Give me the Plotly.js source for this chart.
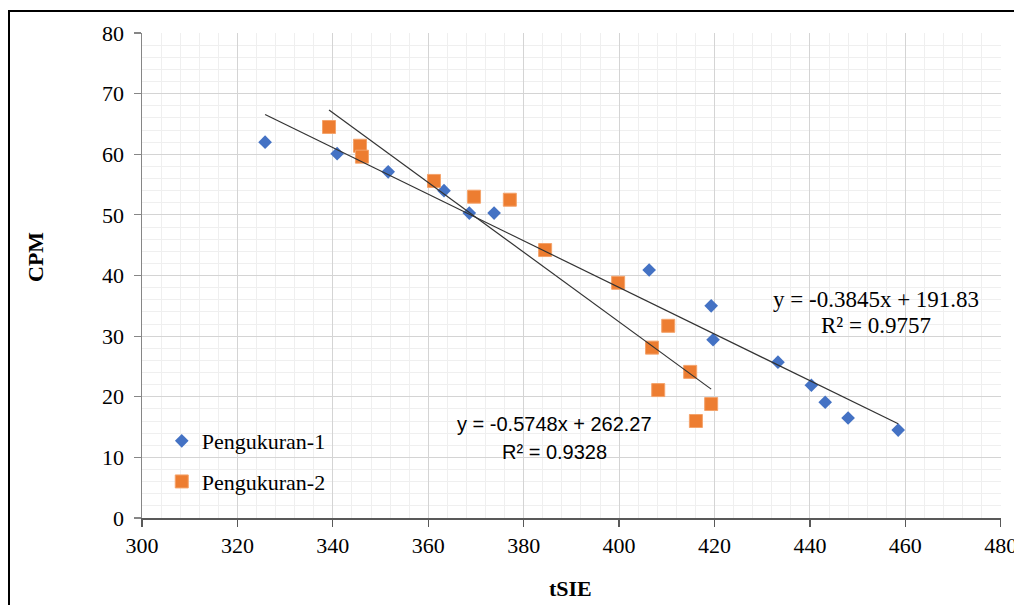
<!DOCTYPE html>
<html><head><meta charset="utf-8">
<script src="https://cdn.plot.ly/plotly-3.0.1.min.js"></script>
<style>html,body{margin:0;padding:0;background:#fff}#chart{width:1014px;height:605px}</style>
</head><body><div id="chart"></div>
<script>
const seriesNames = ['Pengukuran-1', 'Pengukuran-2'];
const p1_tSIE = [325.8, 340.9, 351.6, 363.3, 368.6, 373.8, 406.3, 419.3, 419.7, 433.3, 440.3, 443.2, 448.0, 458.5];
const p1_CPM  = [62.0, 60.1, 57.1, 54.0, 50.3, 50.3, 40.9, 35.0, 29.4, 25.7, 21.9, 19.1, 16.5, 14.5];
const p2_tSIE = [339.2, 345.7, 346.1, 361.2, 369.6, 377.1, 384.5, 399.8, 410.3, 406.9, 414.9, 408.2, 419.3, 416.1];
const p2_CPM  = [64.5, 61.4, 59.6, 55.6, 53.0, 52.5, 44.2, 38.8, 31.7, 28.1, 24.1, 21.1, 18.8, 16.0];
const trend1 = {slope: -0.3845, intercept: '191.83', r2: '0.9757'};
const trend2 = {slope: -0.5748, intercept: '262.27', r2: '0.9328'};
const xTicks = [300, 320, 340, 360, 380, 400, 420, 440, 460, 480];
const yTicks = [0, 10, 20, 30, 40, 50, 60, 70, 80];
const xTitle = 'tSIE';
const yTitle = 'CPM';

function trendLine(xs, t) {
  const x0 = Math.min(...xs), x1 = Math.max(...xs);
  const b = parseFloat(t.intercept);
  return {x: [x0, x1], y: [t.slope * x0 + b, t.slope * x1 + b]};
}
const tl1 = trendLine(p1_tSIE, trend1);
const tl2 = trendLine(p2_tSIE, trend2);
const eq = t => 'y = ' + t.slope + 'x + ' + t.intercept;

const serif = 'Liberation Serif';
const sans = 'Liberation Sans';

const data = [
  {x: p1_tSIE, y: p1_CPM, type: 'scatter', mode: 'markers', name: seriesNames[0], legendgroup: 'a',
   marker: {symbol: 'diamond', size: 10.5, color: '#4472C4'}},
  {x: p2_tSIE, y: p2_CPM, type: 'scatter', mode: 'markers', name: seriesNames[1], legendgroup: 'b',
   marker: {symbol: 'square', size: 13, color: '#ED7D31', line: {width: 1, color: '#F4A36B'}}},
  {x: tl1.x, y: tl1.y, type: 'scatter', mode: 'lines', showlegend: false, hoverinfo: 'skip',
   line: {color: '#333333', width: 1.2}},
  {x: tl2.x, y: tl2.y, type: 'scatter', mode: 'lines', showlegend: false, hoverinfo: 'skip',
   line: {color: '#333333', width: 1.2}}
];

const layout = {
  width: 1014, height: 605,
  margin: {l: 142, r: 13, t: 33, b: 87},
  paper_bgcolor: '#fff', plot_bgcolor: '#fff',
  font: {family: serif},
  showlegend: true,
  legend: {x: 0.023, y: 0.202, xanchor: 'left', yanchor: 'top', traceorder: 'grouped', tracegroupgap: 9,
           font: {family: serif, size: 22, color: '#000'}, bgcolor: 'rgba(0,0,0,0)'},
  xaxis: {range: [300, 480.05], tickvals: xTicks, ticktext: xTicks.map(String), ticklabeloverflow: 'allow',
          showgrid: true, gridcolor: '#d4d4d4', gridwidth: 1,
          minor: {dtick: 4, tick0: 300, showgrid: true, gridcolor: '#efefef', gridwidth: 1, ticks: ''},
          showline: true, linecolor: '#595959', linewidth: 1.5,
          ticks: 'outside', ticklen: 7, tickcolor: '#595959', tickwidth: 1.2,
          tickfont: {family: serif, size: 22, color: '#000'}, zeroline: false, fixedrange: true},
  yaxis: {range: [0, 80], tickvals: yTicks, ticktext: yTicks.map(String),
          showgrid: true, gridcolor: '#d4d4d4', gridwidth: 1,
          minor: {dtick: 2, tick0: 0, showgrid: true, gridcolor: '#efefef', gridwidth: 1, ticks: ''},
          showline: true, linecolor: '#868686', linewidth: 1.5,
          ticks: 'outside', ticklen: 7, tickcolor: '#868686', tickwidth: 1.2, ticklabelstandoff: 5,
          tickfont: {family: serif, size: 22, color: '#000'}, zeroline: false, fixedrange: true},
  annotations: [
    {xref: 'paper', yref: 'paper', x: (35 - 142) / 859, y: (518 - 257) / 485, xanchor: 'center', yanchor: 'middle',
     text: '<b>' + yTitle + '</b>', textangle: -90, showarrow: false, font: {family: serif, size: 22, color: '#000'}},
    {xref: 'paper', yref: 'paper', x: (570 - 142) / 859, y: (518 - 588) / 485, xanchor: 'center', yanchor: 'middle',
     text: '<b>' + xTitle + '</b>', showarrow: false, font: {family: serif, size: 22, color: '#000'}},
    {x: 453.8, y: 36.1, text: eq(trend1), showarrow: false, font: {family: serif, size: 23, color: '#000'}},
    {x: 453.8, y: 31.8, text: 'R² = ' + trend1.r2, showarrow: false, font: {family: serif, size: 23, color: '#000'}},
    {x: 386.5, y: 15.5, text: eq(trend2), showarrow: false, font: {family: sans, size: 20, color: '#000'}},
    {x: 386.5, y: 10.9, text: 'R² = ' + trend2.r2, showarrow: false, font: {family: sans, size: 20, color: '#000'}}
  ],
  shapes: [
    {type: 'rect', xref: 'paper', yref: 'paper', x0: (9 - 142) / 859, x1: (1030 - 142) / 859,
     y0: (518 - 620) / 485, y1: (518 - 11) / 485, line: {color: '#000', width: 2}, fillcolor: 'rgba(0,0,0,0)', layer: 'below'}
  ]
};

Plotly.newPlot('chart', data, layout, {displayModeBar: false, staticPlot: true});
</script>
</body></html>
